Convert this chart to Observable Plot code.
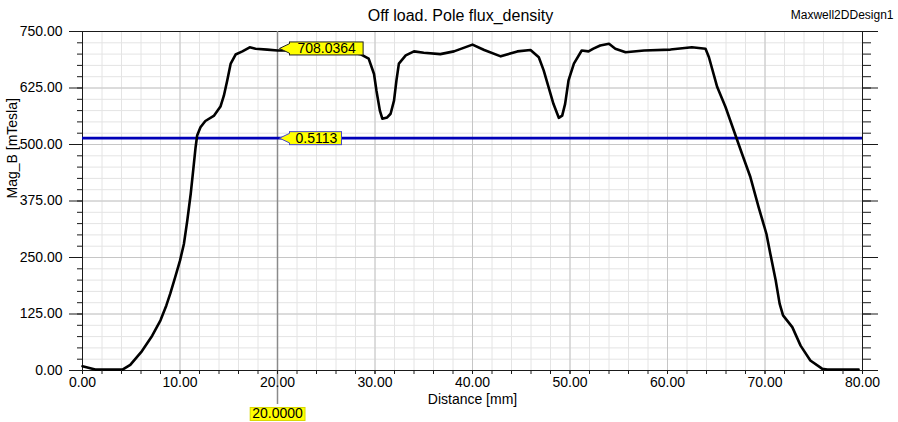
<!DOCTYPE html>
<html>
<head>
<meta charset="utf-8">
<script src="https://cdn.jsdelivr.net/npm/d3@7"></script>
<script src="https://cdn.jsdelivr.net/npm/@observablehq/plot@0.6"></script>
<style>
  html, body { margin: 0; padding: 0; background: #fff; }
</style>
</head>
<body>
<div id="chart"></div>
<script>
// ---- data ----
const distance = [0, 1.3, 4.1, 4.9, 6.1, 7.15, 8.0, 8.6, 9.0, 9.5, 10.0, 10.4, 10.75, 11.1, 11.35, 11.6, 11.76, 12.1, 12.6, 13.5,
  14.15, 14.5, 14.85, 15.2, 15.7, 16.4, 17.15, 17.75, 18.95, 20.0, 21.5, 23, 25, 27, 28.5, 29.35, 29.9, 30.15, 30.5, 30.75,
  31.25, 31.6, 31.95, 32.2, 32.45, 33.15, 34.0, 35.0, 36.7, 38.1, 40.0, 41.2, 42.9, 44.6, 45.95, 46.8, 47.3, 47.8, 48.3, 48.85,
  49.2, 49.5, 49.85, 50.4, 51.2, 51.9, 52.4, 53.1, 54.0, 54.65, 55.7, 57.6, 60.3, 62.5, 63.9, 64.25, 65.1, 65.95, 66.8, 67.65,
  68.5, 69.35, 70.15, 70.55, 71.1, 71.5, 71.85, 72.8, 73.65, 74.65, 75.85, 76.4, 79.6];
const magB = [9.5, 2, 2, 12.6, 43, 77, 111, 144, 170, 206, 243, 280, 332, 391, 442, 494, 520, 538, 552, 564,
  584, 608, 642, 679, 699, 706, 715, 712, 710, 708, 708, 708, 706, 706, 700, 690, 656, 619, 575, 557,
  560, 568, 597, 642, 679, 697, 706, 703, 700, 706, 721, 709, 695, 706, 709, 693, 664, 627, 590, 559,
  564, 590, 642, 679, 708, 706, 712, 719, 723, 712, 704, 708, 710, 715, 712, 693, 627, 583, 531, 479,
  428, 361, 302, 258, 199, 148, 122, 96, 55, 22, 4, 2, 2];
const refLevel = 514;            // blue horizontal marker line
const refLabel = "0.5113";
const cursorX = 20;
const cursorY = 708.0364;
const cursorXLabel = "20.0000";
const cursorYLabel = "708.0364";
const xMajor = [0, 10, 20, 30, 40, 50, 60, 70, 80];
const xMinor = d3.range(0, 81, 2);
const yMajor = [0, 125, 250, 375, 500, 625, 750];
const yMinor = d3.range(0, 751, 25);
const title = "Off load. Pole flux_density";
const design = "Maxwell2DDesign1";
const xLabel = "Distance [mm]";
const yLabel = "Mag_B [mTesla]";

const data = distance.map((d, i) => ({x: d, y: magB[i]}));
const fmt = d3.format(".2f");
const axisColor = "#1a1a1a";

const plot = Plot.plot({
  width: 898,
  height: 422,
  marginLeft: 82,
  marginRight: 36,
  marginTop: 31,
  marginBottom: 52,
  style: {fontFamily: "'Liberation Sans', Arial, sans-serif", fontSize: "14px", background: "#fff", color: "#000"},
  x: {domain: [0, 80]},
  y: {domain: [0, 750]},
  marks: [
    // grid
    Plot.gridX(xMinor, {stroke: "#e4e4e4", strokeOpacity: 1}),
    Plot.gridY(yMinor, {stroke: "#e4e4e4", strokeOpacity: 1}),
    Plot.gridX(xMajor, {stroke: "#c6c6c6", strokeOpacity: 1}),
    Plot.gridY(yMajor, {stroke: "#c6c6c6", strokeOpacity: 1}),
    // frame lines
    Plot.ruleX([0, 80], {stroke: axisColor}),
    Plot.ruleY([0, 750], {stroke: axisColor}),
    // cursor line
    Plot.ruleX([cursorX], {y1: 750, y2: 0, insetBottom: -34, stroke: "#8a8a8a", strokeWidth: 1.5}),
    // reference level
    Plot.ruleY([refLevel], {stroke: "#0000b8", strokeWidth: 2.6}),
    // curve
    Plot.line(data, {x: "x", y: "y", stroke: "#000", strokeWidth: 2.6, strokeLinejoin: "round"}),
    // axes
    Plot.axisY(yMajor, {anchor: "left", tickSize: 13, tickPadding: 7, tickFormat: fmt, fontSize: 14, stroke: axisColor, label: null}),
    Plot.axisY(yMinor, {anchor: "left", tickSize: 5, fill: "none", stroke: axisColor, label: null}),
    Plot.axisY(yMajor, {anchor: "right", tickSize: 15, fill: "none", stroke: axisColor, label: null}),
    Plot.axisY(yMinor, {anchor: "right", tickSize: 8, fill: "none", stroke: axisColor, label: null}),
    Plot.axisX(xMajor, {anchor: "bottom", tickSize: 4, tickPadding: 3, tickFormat: fmt, fontSize: 14, stroke: axisColor, label: null}),
    Plot.axisX(xMinor, {anchor: "bottom", tickSize: 4, fill: "none", stroke: axisColor, label: null}),
    // titles
    Plot.text([title], {frameAnchor: "top", dx: -12, dy: -15.5, lineAnchor: "middle", fontSize: 16, fill: "#000"}),
    Plot.text([design], {frameAnchor: "top-right", textAnchor: "end", dx: 31, dy: -16.5, lineAnchor: "middle", fontSize: 12, fill: "#000"}),
    Plot.text([xLabel], {frameAnchor: "bottom", dy: 29, lineAnchor: "middle", fontSize: 14, fill: "#000"}),
    Plot.text([yLabel], {frameAnchor: "left", rotate: -90, dx: -70, dy: -2.5, lineAnchor: "middle", fontSize: 14, fill: "#000"}),
    // marker labels
    Plot.text([{x: cursorX, y: cursorY, t: cursorYLabel}], {x: "x", y: "y", text: "t", textAnchor: "start", dx: 20, dy: -2, lineAnchor: "middle", fontSize: 14, fill: "#000"}),
    Plot.text([{x: cursorX, y: refLevel, t: refLabel}], {x: "x", y: "y", text: "t", textAnchor: "start", dx: 18, dy: 0, lineAnchor: "middle", fontSize: 14, fill: "#000"}),
    Plot.text([{x: cursorX, t: cursorXLabel}], {x: "x", text: "t", frameAnchor: "bottom", dy: 43.5, lineAnchor: "middle", fontSize: 14, fill: "#000"})
  ]
});

document.getElementById("chart").append(plot);

// yellow label boxes behind marker texts
const NS = "http://www.w3.org/2000/svg";
const specs = [
  {label: cursorYLabel, border: "#202020", padL: 8, padR: 7, pointer: true},
  {label: refLabel, border: "#4848c8", padL: 6, padR: 4, pointer: true},
  {label: cursorXLabel, border: "#d8d800", padL: 2, padR: 2, pointer: false}
];
const allTexts = Array.from(plot.querySelectorAll("text"));
for (const s of specs) {
  allTexts.filter(t => t.textContent === s.label).forEach(t => {
    const b = t.getBBox();
    const tr = t.getAttribute("transform");
    const x0 = b.x - s.padL, x1 = b.x + b.width + s.padR;
    const cy = b.y + b.height / 2 + 0.5;
    const y0 = cy - 6.5, y1 = cy + 6.5;
    const add = (el) => { if (tr) el.setAttribute("transform", tr); t.parentNode.insertBefore(el, t); };
    if (s.pointer) {
      const p = document.createElementNS(NS, "polygon");
      p.setAttribute("points", `${x0 - 10},${cy} ${x0 + 0.5},${cy - 5} ${x0 + 0.5},${cy + 5}`);
      p.setAttribute("fill", "#ffff00"); p.setAttribute("stroke", s.border); p.setAttribute("stroke-width", 1);
      add(p);
    }
    const rect = document.createElementNS(NS, "rect");
    rect.setAttribute("x", x0); rect.setAttribute("y", y0);
    rect.setAttribute("width", x1 - x0); rect.setAttribute("height", y1 - y0);
    rect.setAttribute("fill", "#ffff00"); rect.setAttribute("stroke", s.border); rect.setAttribute("stroke-width", 1);
    add(rect);
    if (s.pointer) {
      const cover = document.createElementNS(NS, "rect");
      cover.setAttribute("x", x0 - 0.5); cover.setAttribute("y", cy - 4.5);
      cover.setAttribute("width", 2); cover.setAttribute("height", 9);
      cover.setAttribute("fill", "#ffff00");
      add(cover);
    }
  });
}
</script>
</body>
</html>
